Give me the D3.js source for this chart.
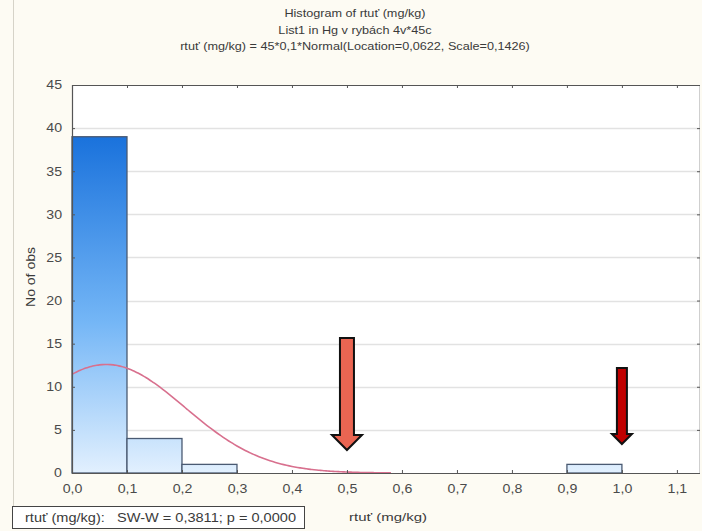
<!DOCTYPE html>
<html>
<head>
<meta charset="utf-8">
<script src="https://cdn.jsdelivr.net/npm/d3@7"></script>
<style>
  html, body { margin: 0; padding: 0; background: #fdfbf3; }
  svg { display: block; }
  text { font-family: "Liberation Sans", Arial, sans-serif; }
</style>
</head>
<body>
<svg id="chart" width="702" height="531"></svg>
<script>
// Histogram bins (lower edge, upper edge) and observed counts
const binStarts = [0.0, 0.1, 0.2, 0.9];
const binEnds   = [0.1, 0.2, 0.3, 1.0];
const counts    = [39, 4, 1, 1];

// Fitted normal curve parameters (from the subtitle)
const nObs = 45;
const binWidth = 0.1;
const fitLocation = 0.0622;
const fitScale = 0.1426;

// Axis ticks
const xTicks = [0, 0.1, 0.2, 0.3, 0.4, 0.5, 0.6, 0.7, 0.8, 0.9, 1.0, 1.1];
const yTicks = [0, 5, 10, 15, 20, 25, 30, 35, 40, 45];

// Annotation arrows pointing at x-values
const arrowX = [0.5, 1.0];

const titleLines = [
  "Histogram of rtuť (mg/kg)",
  "List1 in Hg v rybách 4v*45c",
  "rtuť (mg/kg) = 45*0,1*Normal(Location=0,0622, Scale=0,1426)"
];
const xLabel = "rtuť (mg/kg)";
const yLabel = "No of obs";
const statText = "rtuť (mg/kg):   SW-W = 0,3811; p = 0,0000";

const svg = d3.select("#chart");
const plot = { left: 72, right: 700, top: 85, bottom: 473 };

const x = d3.scaleLinear().domain([0, 1.142]).range([plot.left, plot.right]);
const y = d3.scaleLinear().domain([0, 45]).range([plot.bottom, plot.top]);
const fmt = d => d3.format(".1f")(d).replace(".", ",");

// widen glyphs horizontally (the chart font is a broad sans)
function widen(sel, factor) {
  sel.each(function () {
    const len = this.getComputedTextLength();
    d3.select(this).attr("textLength", len * factor).attr("lengthAdjust", "spacingAndGlyphs");
  });
}

// panel frame line on the left
svg.append("line").attr("x1", 13.5).attr("x2", 13.5).attr("y1", 0).attr("y2", 506)
  .attr("stroke", "#d6d3c8").attr("stroke-width", 1);

// plot background
svg.append("rect").attr("x", plot.left).attr("y", plot.top)
  .attr("width", plot.right - plot.left).attr("height", plot.bottom - plot.top)
  .attr("fill", "#ffffff");

// gradient for bars
const defs = svg.append("defs");
const grad = defs.append("linearGradient").attr("id", "barGrad")
  .attr("gradientUnits", "userSpaceOnUse")
  .attr("x1", 0).attr("x2", 0).attr("y1", y(0)).attr("y2", y(39));
grad.append("stop").attr("offset", "0%").attr("stop-color", "#e2f0fe");
grad.append("stop").attr("offset", "45%").attr("stop-color", "#74b6f6");
grad.append("stop").attr("offset", "100%").attr("stop-color", "#1a72dc");

// horizontal gridlines
svg.append("g").selectAll("line").data(yTicks.filter(d => d > 0 && d < 45)).join("line")
  .attr("x1", plot.left).attr("x2", plot.right)
  .attr("y1", d => Math.round(y(d)) + 0.5).attr("y2", d => Math.round(y(d)) + 0.5)
  .attr("stroke", "#e2e2e2").attr("stroke-width", 1.5);

// bars
svg.append("g").selectAll("rect").data(counts).join("rect")
  .attr("x", (d, i) => x(binStarts[i]))
  .attr("width", (d, i) => x(binEnds[i]) - x(binStarts[i]))
  .attr("y", d => y(d))
  .attr("height", d => y(0) - y(d))
  .attr("fill", "url(#barGrad)")
  .attr("stroke", "#4a5a72").attr("stroke-width", 1.3);

// fitted normal curve
const pdf = v => Math.exp(-0.5 * Math.pow((v - fitLocation) / fitScale, 2)) /
  (fitScale * Math.sqrt(2 * Math.PI));
const curveXs = d3.range(0, 0.5801, 0.005);
svg.append("path")
  .datum(curveXs)
  .attr("d", d3.line().x(v => x(v)).y(v => y(nObs * binWidth * pdf(v))).curve(d3.curveBasis))
  .attr("fill", "none").attr("stroke", "#d8708e").attr("stroke-width", 1.6);

// axes frame
const axisColor = "#555";
svg.append("line").attr("x1", plot.left).attr("x2", plot.right)
  .attr("y1", plot.top + 0.5).attr("y2", plot.top + 0.5).attr("stroke", axisColor).attr("stroke-width", 1.2);
svg.append("line").attr("x1", plot.left).attr("x2", plot.right)
  .attr("y1", plot.bottom + 0.5).attr("y2", plot.bottom + 0.5).attr("stroke", axisColor).attr("stroke-width", 1.2);
svg.append("line").attr("x1", plot.left + 0.5).attr("x2", plot.left + 0.5)
  .attr("y1", plot.top).attr("y2", plot.bottom).attr("stroke", axisColor).attr("stroke-width", 1.2);
svg.append("line").attr("x1", plot.right - 0.5).attr("x2", plot.right - 0.5)
  .attr("y1", plot.top).attr("y2", plot.bottom).attr("stroke", "#cfcfcf").attr("stroke-width", 1);

// bottom axis
const xAxis = d3.axisBottom(x).tickValues(xTicks).tickFormat(fmt).tickSize(-3).tickPadding(11);
const gx = svg.append("g").attr("transform", `translate(0,${plot.bottom})`).call(xAxis);
gx.select(".domain").remove();
gx.selectAll(".tick line").attr("stroke", axisColor);
gx.selectAll("text").attr("font-size", 12).attr("fill", "#4a4a4a").call(widen, 1.18);

// top axis ticks
const gxt = svg.append("g").attr("transform", `translate(0,${plot.top})`)
  .call(d3.axisTop(x).tickValues(xTicks).tickFormat("").tickSize(-3));
gxt.select(".domain").remove();
gxt.selectAll(".tick line").attr("stroke", axisColor);

// left axis
const yAxis = d3.axisLeft(y).tickValues(yTicks).tickSize(-3).tickPadding(10);
const gy = svg.append("g").attr("transform", `translate(${plot.left},0)`).call(yAxis);
gy.select(".domain").remove();
gy.selectAll(".tick line").attr("stroke", axisColor);
gy.selectAll("text").attr("font-size", 12).attr("fill", "#4a4a4a").call(widen, 1.18);

// right axis ticks
const gyr = svg.append("g").attr("transform", `translate(${plot.right},0)`)
  .call(d3.axisRight(y).tickValues(yTicks).tickFormat("").tickSize(-3));
gyr.select(".domain").remove();
gyr.selectAll(".tick line").attr("stroke", axisColor);

// titles
svg.append("g").selectAll("text").data(titleLines).join("text")
  .attr("x", 355).attr("y", (d, i) => 17 + i * 16.5)
  .attr("text-anchor", "middle").attr("font-size", 11).attr("fill", "#3a3a3a")
  .text(d => d)
  .call(widen, 1.15);

// axis labels
svg.append("text").attr("x", 388).attr("y", 521)
  .attr("text-anchor", "middle").attr("font-size", 11.5).attr("fill", "#3a3a3a")
  .attr("textLength", 78).attr("lengthAdjust", "spacingAndGlyphs").text(xLabel);
svg.append("text").attr("transform", `translate(35,${(plot.top + plot.bottom) / 2 - 2}) rotate(-90)`)
  .attr("text-anchor", "middle").attr("font-size", 12).attr("fill", "#3a3a3a")
  .attr("textLength", 60).attr("lengthAdjust", "spacingAndGlyphs").text(yLabel);

// statistics box
svg.append("rect").attr("x", 12.5).attr("y", 506.5).attr("width", 292).attr("height", 22)
  .attr("fill", "#ffffff").attr("stroke", "#444").attr("stroke-width", 1);
svg.append("text").attr("x", 25).attr("y", 521.5).attr("font-size", 12).attr("fill", "#3a3a3a")
  .attr("xml:space", "preserve").style("white-space", "pre")
  .attr("textLength", 271).attr("lengthAdjust", "spacingAndGlyphs").text(statText);

// annotation arrows: [shaft half-width, head half-width, top y, head base y, tip y, fill]
const arrowStyles = [
  [7, 15, 338, 435, 450, "#ea6552"],
  [5, 10, 368, 434, 444, "#c00000"]
];
svg.append("g").selectAll("path").data(arrowX).join("path")
  .attr("d", (d, i) => {
    const [sw, hw, top, base, tip] = arrowStyles[i];
    const cx = x(d);
    return `M${cx - sw},${top} L${cx + sw},${top} L${cx + sw},${base} L${cx + hw},${base} ` +
      `L${cx},${tip} L${cx - hw},${base} L${cx - sw},${base} Z`;
  })
  .attr("fill", (d, i) => arrowStyles[i][5])
  .attr("stroke", "#111").attr("stroke-width", 2).attr("stroke-linejoin", "miter");
</script>
</body>
</html>
